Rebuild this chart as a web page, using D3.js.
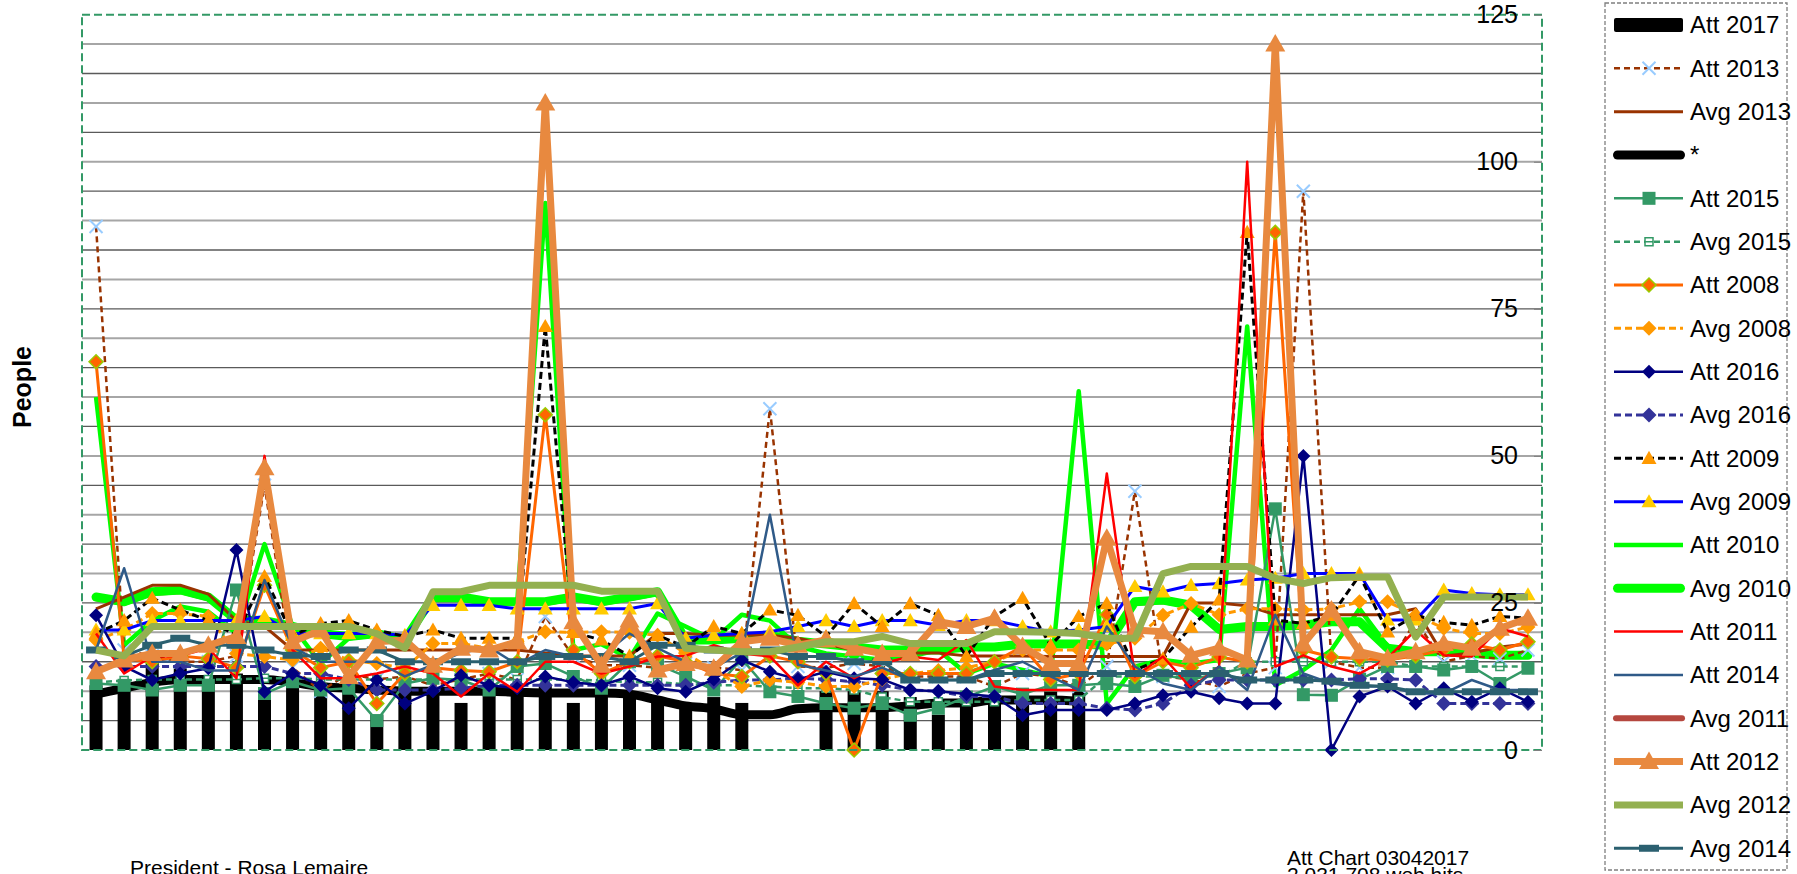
<!DOCTYPE html>
<html><head><meta charset="utf-8">
<script src="https://cdn.jsdelivr.net/npm/d3@7"></script>
<style>
body{margin:0;background:#fff;}
svg{display:block;font-family:"Liberation Sans",Arial,sans-serif;}
.leg text{font-family:"Liberation Sans Narrow","Arial Narrow","Liberation Sans",sans-serif;}
</style></head><body><svg id="c" width="1797" height="874"></svg>
<script>
const weeks = [1,2,3,4,5,6,7,8,9,10,11,12,13,14,15,16,17,18,19,20,21,22,23,24,25,26,27,28,29,30,31,32,33,34,35,36,37,38,39,40,41,42,43,44,45,46,47,48,49,50,51,52];
const yTicks = [0,25,50,75,100,125];

const att2017 = [11,11,15,14,12.5,13,10,13,10,10,6,10,10,8,10,10,11,8,10,10,9,8,9,8,null,null,10,10,10,9,6,7.5,8.5,8.5,10,11,null,null,null,null,null,null,null,null,null,null,null,null,null,null,null,null];
const star = [9.5,10.5,11.5,12,12,12,12,11.5,10.8,10.5,10.2,10,10,10,10,9.8,9.7,9.7,9.7,9.5,8.5,7.5,7,6,6,7,7.2,7.2,7.2,7.5,8,8,8.5,8.5,8.5,8.3,null,null,null,null,null,null,null,null,null,null,null,null,null,null,null,null];
const att2013 = [89,17,16,15,15,16,45,14,10,13,12,12.5,11,12,13,12,22.7,15.9,14.4,14.4,14,14.7,14,13.6,58,14.2,14,14.7,14.2,12.5,12.5,12.5,10.8,13,12.5,10.8,14.2,44,12.5,12,10.8,13,14,95,15,14,14,22,15,16,15.5,17];
const avg2013 = [24,26,28,28,26.5,22,21,17,17,17,17,17,17,17,17,17,16.5,16,16,16,19.8,19.8,19.5,19.5,19.5,19,18,17,16.5,16.5,16.5,16,16,16,15.9,15.9,15.9,15.9,15.9,25,25,24.5,23,23,23,23,23,24,16,16.5,17.5,18];
const att2015 = [11.3,11,10.2,11,11,27.2,9.6,11.6,10.2,10.5,5,11.3,12.2,11.9,10.2,14.2,14.7,12.5,10.5,15,14.5,12.5,10.2,15.5,9.9,9.1,7.9,7.1,7.9,5.9,7.1,9,10.8,9.5,11,11,11.3,10.8,12.7,12,13,14,41,9.4,9.3,12,14.2,14.2,13.6,14.2,11.3,13.9];
const avg2015 = [11.5,11.8,12,12,12,12,12.2,12.2,12,12,12,12,12,12,12,12,12,12,11.8,11.5,11.5,11.2,11,11,10.8,10.5,10.5,10.2,9,8.2,8.2,8.2,8.2,8.5,8.5,8.5,12.5,12.5,12.5,12.5,12.5,15,15,15,15,15,15,14.2,14.2,14.2,14.2,14.2];
const att2008 = [66,15.5,15,16,15.5,14,28,17,14,15,7.9,13,14,13.5,13.3,15,57,17,13,15,16,15,13,12.5,16,15,13,0,13,13,13,13,15,17.6,12,13,23,12.5,15,14,15.8,15,88,17,15.8,15.5,15.3,16,17,18,17,18.4];
const avg2008 = [18.7,20.4,23.2,23.2,22.7,16.4,15.9,15.3,17.3,15.3,14.7,13.9,18.1,18.1,17.3,18.4,20.1,20,20.1,20,19.5,16.4,13.6,10.8,11.9,11.5,10.8,10.8,12,13,13.5,14,15,17,17,17,18,19,22.9,24.9,23,24,24,23.8,24,25.2,25.2,22.9,20.7,19.8,19.8,20.9];
const att2016 = [22.9,14.2,11.9,13,13.9,34,9.9,13,11,7.1,11.9,7.9,10,12.7,11,10.5,12.5,11.5,11,12.5,10.5,9.9,12,15.3,13.3,12,13.3,12.2,12,10.2,10,9.5,9.1,5.9,6.8,6.8,6.8,7.9,9.3,9.9,8.8,7.9,7.9,50,0,9.1,10.8,7.9,10.5,8.2,10.5,8.2];
const avg2016 = [14.2,14.2,14.2,14.2,14.2,14.2,14.2,13,13,12,10.2,10.2,10.2,10.5,11,11,11,11,11,11,11,11,11.5,11.9,11.9,12.2,12,11.6,11,10.2,10,9.1,9.1,7.9,7.9,7.9,7.1,6.8,7.9,11,11.9,11.9,11.9,11.9,11.9,12.1,12.1,11.9,7.9,7.9,7.9,7.9];
const att2009 = [19.8,22,25.8,23.8,22,19.5,29.5,19.5,21.5,22,20.4,19.3,20.4,19,19,19,72,20,18.7,16,19.5,17.5,21,19.8,23.8,22.9,19.3,24.9,21,24.9,22.9,15.9,22.7,25.8,17.8,22.7,24.9,13.6,15.5,20.9,25.5,88,22.1,21.5,22.9,29.7,20.1,22.9,21.7,21.2,22.7,22.4];
const avg2009 = [20.4,20.4,22,22,22,22,22.7,19.8,19.8,19.8,19.8,19.5,24.6,24.6,24.6,24,24,24,24,24,24.9,19,19.5,19.8,20.1,21,22,21,22,22,21.2,22,22,21,20.1,20.4,21,27.8,26.9,28,28.3,28.9,29.2,30,30,30,22.1,22.1,27.2,26.6,26.4,26.4];
const att2010 = [60,17.8,22,24.4,23.5,19.8,35,21,14.7,19,19.5,18.7,25.5,25.5,25,25,93,17,18,15.6,23.2,21,18.7,23,22,17.6,16.4,15.9,15.3,15.9,17,13,14.7,13.6,12.5,61,7.9,14.2,15.3,14.7,15.3,72,11,13.6,17,24,17.6,16.4,16.4,16.1,16.1,16.1];
const avg2010 = [26,25.2,26.9,27.2,26,22.1,22,21,19.8,19.3,19.8,18.7,26,26,25.2,25.2,25.2,26,25.2,26,26.9,18.7,18.7,19,19.5,18.5,18,17.5,17,17,17,17.5,17.5,18,18,18,17.8,25.2,25.5,24.6,20.5,21,21,21.2,21.8,21.8,17.3,16.7,16.7,16.4,16.1,16.1];
const att2011 = [19.8,13,15.9,16,17.3,12.2,50,17,12.2,12.2,13,14.2,13,9.1,13,9.9,15,15,13,14.2,15.9,16,17.8,16.4,15.9,11,15,12.2,14.7,15.9,15.3,18.7,10.8,10.2,10.2,10.2,47,12.5,15.9,10.5,14.2,100,14.2,16.1,14.2,13,15.6,20.4,16.1,15.9,20.7,19.3];
const att2014 = [17,30.9,15,15,13.5,13.5,28.9,17.5,15,15,15,12.5,14.5,16.5,17.5,14.5,17,15.9,15.9,19.8,17.3,15,14,16.5,40,14.5,13.5,12.5,14,11.9,11.9,11.9,13.6,15,12.5,10.2,21,14.2,11.3,10.2,14.2,10.2,23,13,11.3,10.8,10.8,9.6,9.6,11.9,10.2,10.2];
const avg2011 = [25.8,25,26.7,27,25.8,22,21.8,20.8,19.7,19.2,19.7,18.6,25.8,25.8,25,25,25,25.8,25,25.8,26.7,18.6,18.6,18.9,19.4,18.4,17.9,17.4,16.9,16.9,16.9,17.4,17.4,17.9,17.9,17.9,17.7,25,25.3,24.5,20.4,20.9,20.9,21.1,21.7,21.7,17.2,16.6,16.6,16.3,16,16];
const att2012 = [13.3,15.3,16.4,16.4,17.8,19.3,48,18.4,20.4,12.5,18.4,18.7,14.4,17.3,17,18.4,110,21.8,14.4,22.1,13.6,14.7,13.9,18.4,19,17.8,18.7,17.3,16.4,16.4,21.8,21,22.4,17.6,14.7,14.7,36,20.4,20.1,16.1,17.3,15.3,120,18,23.8,16.7,15.6,16.7,18.1,17.3,20.7,22.4];
const avg2012 = [17,16,21,21,21,21,21,21,21,21,19.8,17.3,26.9,26.9,28,28,28,28,27,27,27,17.3,17,16.7,16.7,17.5,18.4,18.4,19.3,18.1,18.1,18.1,20.1,20.1,20,19.8,19,19,30,31.2,31.2,31.2,29.2,28.3,29.3,29.4,29.4,19.2,26,26,26,26];
const avg2014 = [17,16,17.8,19,17.8,17.8,17,16.1,15.9,17,17,15,15,15,15,15,15.9,15.9,15.9,15,17.8,17.8,17,17,17,15.9,15.9,15,15,11.9,11.9,11.9,13,13,13,13,13,13,13,13,13,11.9,11.9,11.9,11.7,11,10.8,9.9,9.9,9.9,9.9,9.9];

const S = {
  'Att 2013': {data:att2013, color:'#993300', width:2.5, dash:'6,4', marker:'x', mstroke:'#99ccff', msize:13},
  'Avg 2013': {data:avg2013, color:'#993300', width:3},
  '*':        {data:star, color:'#000', width:9, cap:'round', curve:true},
  'Att 2015': {data:att2015, color:'#339966', width:2.5, marker:'square', mfill:'#339966', msize:13},
  'Avg 2015': {data:avg2015, color:'#339966', width:2.5, dash:'6,4', marker:'hsq', mfill:'#fff', mstroke:'#339966', msize:8},
  'Att 2008': {data:att2008, color:'#ff6600', width:3, marker:'diamond', mfill:'#ff6600', mstroke:'#99cc00', msize:14},
  'Avg 2008': {data:avg2008, color:'#ff9900', width:3, dash:'7,4', marker:'diamond', mfill:'#ff9900', msize:15},
  'Att 2016': {data:att2016, color:'#000080', width:2.5, marker:'diamond', mfill:'#000080', msize:14},
  'Avg 2016': {data:avg2016, color:'#333399', width:3, dash:'7,4', marker:'diamond', mfill:'#333399', msize:15},
  'Att 2009': {data:att2009, color:'#000', width:3, dash:'7,4', marker:'triangle', mfill:'#ff9900', msize:15},
  'Avg 2009': {data:avg2009, color:'#0000ff', width:3, marker:'triangle', mfill:'#ffcc00', msize:15},
  'Att 2010': {data:att2010, color:'#00ff00', width:4.5},
  'Avg 2010': {data:avg2010, color:'#00ff00', width:9, cap:'round'},
  'Att 2011': {data:att2011, color:'#ff0000', width:2.5},
  'Att 2014': {data:att2014, color:'#2f5a88', width:2.5},
  'Avg 2011': {data:avg2011, color:'#b5473f', width:6, cap:'round'},
  'Att 2012': {data:att2012, color:'#e8893f', width:7, marker:'triangle', mfill:'#e8893f', msize:20},
  'Avg 2012': {data:avg2012, color:'#93b050', width:7},
  'Avg 2014': {data:avg2014, color:'#2b6070', width:3, marker:'dash', mfill:'#2b6070', msize:20}
};
const legendOrder = ['Att 2017','Att 2013','Avg 2013','*','Att 2015','Avg 2015','Att 2008','Avg 2008','Att 2016','Avg 2016','Att 2009','Avg 2009','Att 2010','Avg 2010','Att 2011','Att 2014','Avg 2011','Att 2012','Avg 2012','Avg 2014'];
const drawOrder = ['*','Avg 2011','Avg 2010','Att 2010','Avg 2013','Att 2013','Avg 2015','Att 2015','Avg 2016','Avg 2008','Att 2008','Att 2016','Avg 2009','Att 2009','Att 2011','Att 2014','Avg 2014','Att 2012','Avg 2012'];

function mpath(t, s){
  const h = s/2;
  if(t==='diamond') return `M0,${-h}L${h},0L0,${h}L${-h},0Z`;
  if(t==='triangle') return `M0,${-h}L${h},${h*0.75}L${-h},${h*0.75}Z`;
  if(t==='square') return `M${-h},${-h}H${h}V${h}H${-h}Z`;
  if(t==='hsq') return `M${-h},${-h}H${h}V${h}H${-h}ZM${-h},0H${h}`;
  if(t==='x') return `M${-h},${-h}L${h},${h}M${h},${-h}L${-h},${h}`;
  if(t==='dash') return `M${-h},-3.5H${h}V3.5H${-h}Z`;
}

const svg = d3.select('#c');
const W0 = 82, W1 = 1542, T = 14.7, B = 750;
const x = d3.scaleBand().domain(weeks).range([W0, W1]);
const y = d3.scaleLinear().domain([0,125]).range([B, T]);
const cx = i => x(weeks[i]) + x.bandwidth()/2;

// gridlines
const grid = svg.append('g');
d3.range(5,125,5).forEach(v=>{
  grid.append('line').attr('x1',W0).attr('x2',W1).attr('y1',y(v)).attr('y2',y(v))
    .attr('stroke', v%10===0 ? '#a6a6a6' : '#5a5a5a').attr('stroke-width', v%10===0 ? 2 : 1.3);
});

// bars Att 2017
svg.append('g').selectAll('rect').data(att2017.map((v,i)=>({v,i})).filter(d=>d.v!=null))
  .join('rect').attr('x',d=>cx(d.i)-6.5).attr('width',13)
  .attr('y',d=>y(d.v)).attr('height',d=>B-y(d.v)).attr('fill','#000');

// lines
drawOrder.forEach(name=>{
  const s = S[name];
  const line = d3.line().defined(d=>d!=null).x((d,i)=>cx(i)).y(d=>y(d));
  if(s.curve) line.curve(d3.curveMonotoneX);
  svg.append('path').datum(s.data).attr('d',line).attr('fill','none')
    .attr('stroke',s.color).attr('stroke-width',s.width)
    .attr('stroke-dasharray',s.dash||null)
    .attr('stroke-linecap',s.cap||'butt').attr('stroke-linejoin','round');
  if(s.marker){
    svg.append('g').selectAll('path').data(s.data.map((v,i)=>({v,i})).filter(d=>d.v!=null))
      .join('path').attr('transform',d=>`translate(${cx(d.i)},${y(d.v)})`)
      .attr('d',mpath(s.marker,s.msize))
      .attr('fill', s.marker==='x' ? 'none' : (s.mfill||'none'))
      .attr('stroke', s.mstroke||'none').attr('stroke-width', s.marker==='x'?2:1.5);
  }
});

// border
svg.append('rect').attr('x',W0).attr('y',T).attr('width',W1-W0).attr('height',B-T)
  .attr('fill','none').attr('stroke','#339966').attr('stroke-width',2).attr('stroke-dasharray','8,4');

// axis on right edge
const ax = svg.append('g').attr('transform',`translate(${W1},0)`)
  .call(d3.axisLeft(y).tickValues(yTicks).tickSize(8).tickPadding(16));
ax.select('.domain').remove();
ax.selectAll('.tick line').attr('stroke','#7f7f7f');
ax.selectAll('.tick text').attr('font-size',25).attr('fill','#000').attr('font-family','"Liberation Sans",Arial,sans-serif');

// y title
svg.append('text').attr('transform','translate(31,387) rotate(-90)').attr('text-anchor','middle')
  .attr('font-size',25).attr('font-weight','bold').text('People');

// footer texts
svg.append('text').attr('x',130).attr('y',875).attr('font-size',21).text('President - Rosa Lemaire');
svg.append('text').attr('x',1287).attr('y',865).attr('font-size',21).text('Att Chart 03042017');
svg.append('text').attr('x',1287).attr('y',882).attr('font-size',21).text('2,031,708 web hits');

// legend
const lg = svg.append('g').attr('class','leg');
lg.append('rect').attr('x',1605).attr('y',3).attr('width',182).attr('height',867)
  .attr('fill','#fff').attr('stroke','#7f7f7f').attr('stroke-width',1.3).attr('stroke-dasharray','4,2');
legendOrder.forEach((name,k)=>{
  const yy = 25 + 43.33*k;
  const g = lg.append('g').attr('transform',`translate(0,${yy})`);
  if(name==='Att 2017'){
    g.append('rect').attr('x',1614).attr('y',-7).attr('width',69).attr('height',14).attr('rx',2).attr('fill','#000');
  } else {
    const s = S[name];
    const capR = s.cap==='round';
    g.append('line').attr('x1',capR?1613+s.width/2:1614).attr('x2',capR?1685-s.width/2:1683).attr('y1',0).attr('y2',0)
      .attr('stroke',s.color).attr('stroke-width',s.width).attr('stroke-dasharray',s.dash||null)
      .attr('stroke-linecap',s.cap||'butt');
    if(s.marker){
      g.append('path').attr('transform','translate(1649,0)').attr('d',mpath(s.marker,s.msize))
        .attr('fill', s.marker==='x' ? 'none' : (s.mfill||'none'))
        .attr('stroke', s.mstroke||'none').attr('stroke-width', s.marker==='x'?2:1.5);
    }
  }
  g.append('text').attr('x',1690).attr('y',0).attr('dy','0.35em').attr('font-size',24).text(name);
});
</script></body></html>
